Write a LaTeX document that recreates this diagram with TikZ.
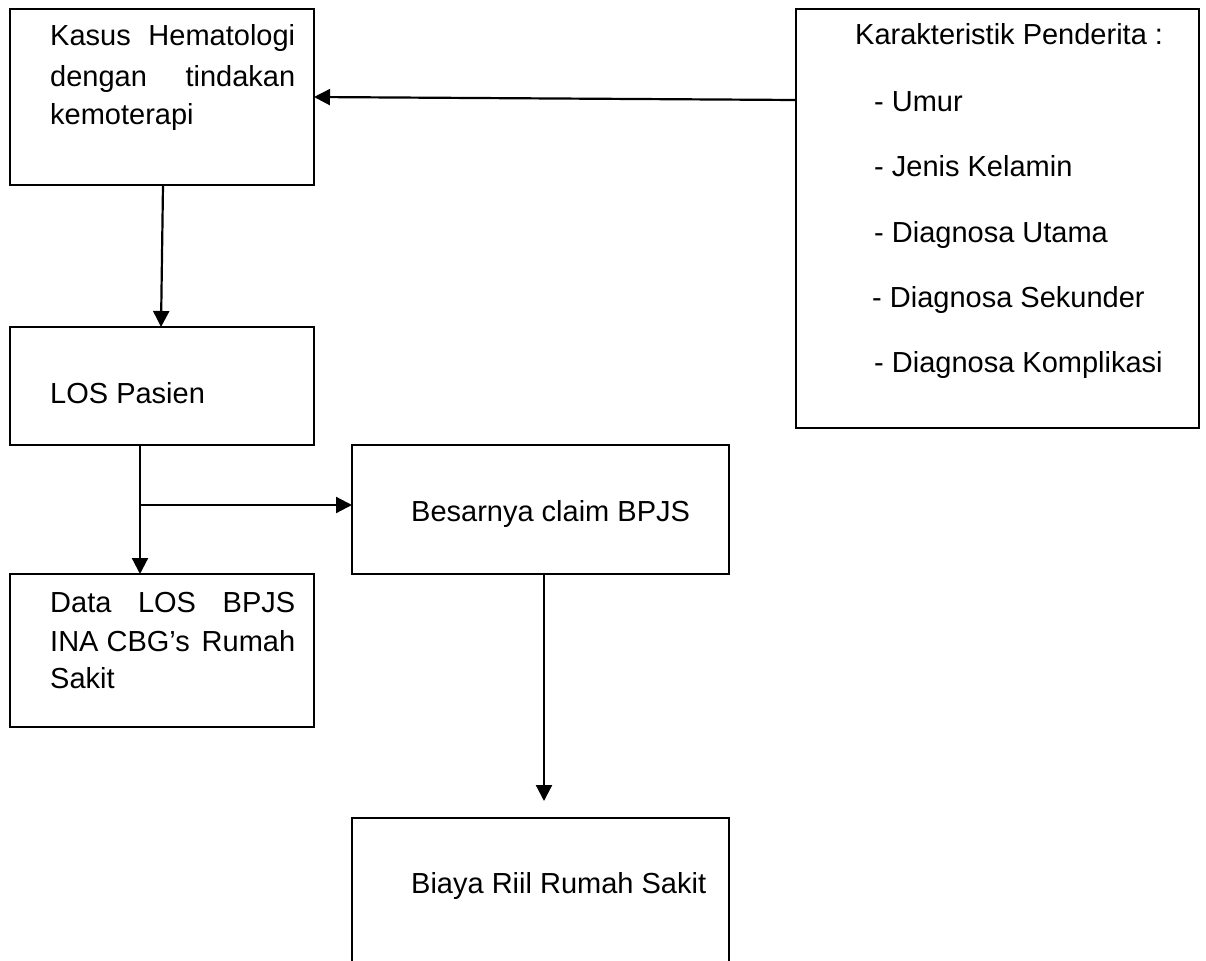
\documentclass[tikz,border=0pt]{standalone}
\usepackage{fontspec}
\setmainfont{Liberation Sans}
\usetikzlibrary{arrows.meta,calc}
\begin{document}
\begin{tikzpicture}[x=1pt,y=-1pt,
  box/.style={draw,line width=2.2pt,rectangle,anchor=north west,inner sep=0pt,outer sep=0pt},
  txt/.style={anchor=base west,inner sep=0pt,font=\fontsize{29}{34}\selectfont},
  arr/.style={line width=2.2pt,-{Triangle[length=16pt,width=16pt]}}]
\useasboundingbox (0,0) rectangle (1206,960);
\begin{scope}
\clip (0,0) rectangle (1206,960);
% boxes
\node[box,minimum width=304pt,minimum height=176pt] (b1) at (10,9) {};
\node[box,minimum width=403pt,minimum height=419pt] (b2) at (796,9) {};
\node[box,minimum width=304pt,minimum height=118pt] (b3) at (10,327) {};
\node[box,minimum width=377pt,minimum height=129pt] (b4) at (352,445) {};
\node[box,minimum width=304pt,minimum height=153pt] (b5) at (10,574) {};
\node[box,minimum width=377pt,minimum height=160pt] (b6) at (352,818) {};
\end{scope}
% texts
\node[txt] (t1a) at (50,46) {\makebox[245pt][s]{Kasus\hfill Hematologi}};
\node[txt] (t1b) at (50,87) {\makebox[245pt][s]{dengan\hfill tindakan}};
\node[txt] (t1c) at (50,125) {kemoterapi};
\node[txt] (t2a) at (855,45) {Karakteristik Penderita :};
\node[txt] (t2b) at (874,112) {- Umur};
\node[txt] (t2c) at (874,177) {- Jenis Kelamin};
\node[txt] (t2d) at (874,242) {- Diagnosa Utama};
\node[txt] (t2e) at (872,307) {- Diagnosa Sekunder};
\node[txt] (t2f) at (874,372) {- Diagnosa Komplikasi};
\node[txt] (t3) at (50,403) {LOS Pasien};
\node[txt] (t4) at (411,521) {Besarnya claim BPJS};
\node[txt] (t5a) at (50,612) {\makebox[245pt][s]{Data\hfill LOS\hfill BPJS}};
\node[txt] (t5b) at (50,651) {\makebox[245pt][s]{INA CBG’s\hfill Rumah}};
\node[txt] (t5c) at (50,688) {Sakit};
\node[txt] (t6) at (411,893) {Biaya Riil Rumah Sakit};
% connectors
\draw[arr] ($(b2.north west)+(0,91)$) -- ($(b1.north east)+(0,88)$);
\draw[arr] ($(b1.south west)+(153,0)$) -- ($(b3.north west)+(151,0)$);
\coordinate (j) at ($(b3.south west)+(130,60)$);
\draw[arr] ($(b3.south west)+(130,0)$) -- ($(b5.north west)+(130,0)$);
\draw[arr] (j) -- (b4.west |- j);
\coordinate (e6) at ($(b6.north west)+(192,-17)$);
\draw[arr] ($(b4.south west)+(192,0)$) -- (e6);
\end{tikzpicture}
\end{document}
